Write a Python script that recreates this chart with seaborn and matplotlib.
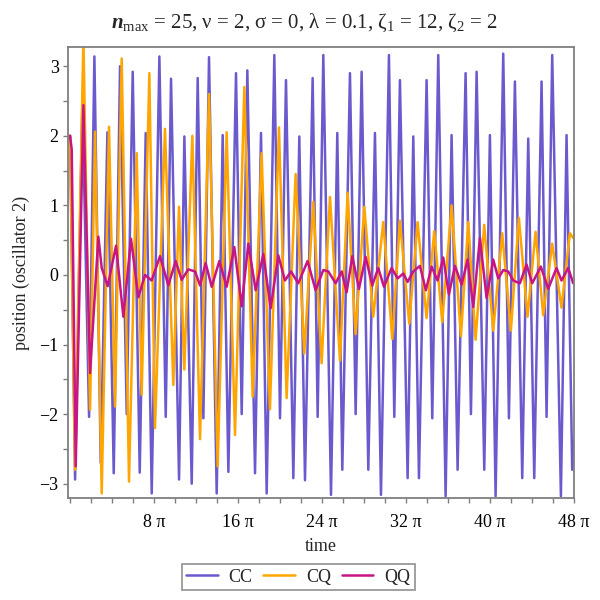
import numpy as np
import pandas as pd
import matplotlib
matplotlib.use("Agg")
import matplotlib.pyplot as plt
from matplotlib.ticker import MultipleLocator, FixedLocator, FixedFormatter
from matplotlib.lines import Line2D
import seaborn as sns

# ---- data (local extrema of each trace) ----
cc_t = [0.0, 1.5, 3.69, 5.69, 7.28, 9.18, 11.17, 13.07, 14.96, 16.96, 18.75, 20.85,
        22.64, 24.44, 26.73, 28.63, 30.22, 32.62, 34.21, 36.41,
        38.2, 39.9, 41.59, 43.89, 45.68, 47.38, 49.67, 51.37, 53.06, 55.36, 57.15,
        58.85, 61.14, 62.84, 64.63, 66.83, 68.62, 70.32, 72.61, 74.11,
        75.8, 78.1, 79.99, 81.49, 83.78, 85.48, 87.27, 89.27, 91.26, 93.06, 95.45,
        97.05, 98.74, 101.04, 102.73, 104.43, 106.72, 108.42, 110.21, 112.41, 114.2,
        116.0, 118.39, 119.99, 121.69, 123.98, 125.67, 127.37, 129.66, 131.36, 133.15,
        135.35, 137.14, 138.94, 141.13, 142.63, 144.32, 146.92, 148.61, 150.31, 150.91]
cc_v = [2.0, -2.94, 2.5, -2.04, 3.14, -2.7, 2.05, -2.85, 3.0, -2.0, 2.92, -2.84,
        2.04, -3.14, 3.14, -2.04, 2.82, -2.94, 1.99, -3.0,
        2.83, -2.06, 3.13, -3.14, 2.01, -2.83, 2.9, -2.0, 2.94, -2.85, 2.04,
        -3.14, 3.16, -2.06, 2.8, -2.92, 1.99, -2.95, 2.83, -2.04,
        3.16, -3.16, 2.04, -2.8, 2.9, -2.0, 2.92, -2.8, 2.04, -3.16, 3.16,
        -2.04, 2.8, -2.92, 1.99, -2.92, 2.8, -2.06, 3.16, -3.18, 2.01,
        -2.8, 2.9, -2.0, 2.92, -2.8, 2.01, -3.18, 3.18, -2.06, 2.78,
        -2.92, 1.96, -2.92, 2.78, -2.04, 3.16, -3.18, 2.01, -2.8, -2.37]

cq_t = [0.0, 1.49, 3.99, 5.98, 7.47, 9.47, 11.66, 13.46, 15.45, 17.64, 19.94, 21.43,
        23.73, 25.42, 28.41, 30.9, 32.6, 34.2,
        36.6, 38.9, 41.59, 44.18, 46.87, 49.37, 52.16, 54.65, 57.34, 59.83, 62.53,
        64.82, 67.51, 70.1, 72.8, 75.29,
        77.8, 80.79, 83.08, 85.47, 88.07, 90.76, 93.75, 96.44, 98.73, 101.52, 104.02,
        106.71, 109.0, 111.4, 114.19,
        117.0, 119.19, 121.38, 123.97, 126.67, 129.36, 131.95, 134.34, 136.94, 139.33,
        141.62, 144.31, 147.1, 149.6, 150.6]
cq_v = [2.0, -2.8, 3.4, -1.94, 2.06, -3.14, 2.13, -1.89, 3.11, -2.97, 1.75, -1.72,
        2.9, -2.2, 2.1, -1.58, 0.98, -1.36,
        2.0, -2.36, 2.6, -2.75, 2.05, -2.3, 2.7, -1.75, 1.75, -1.93, 2.12,
        -1.77, 1.45, -1.13, 1.05, -1.27,
        1.12, -1.23, 1.18, -0.85, 0.98, -0.6, 0.76, -0.92, 0.78, -0.7, 0.76,
        -0.62, 0.63, -0.68, 1.0,
        -0.88, 0.76, -0.93, 0.72, -0.8, 0.6, -0.8, 0.82, -0.6, 0.62,
        -0.58, 0.45, -0.47, 0.6, 0.53]

qq_t = [0.0, 0.5, 1.69, 3.99, 5.98, 8.47, 9.47, 11.26, 13.76, 15.95, 18.24, 20.44,
        22.43, 24.42, 26.92, 29.41, 31.6, 33.4, 35.39,
        37.4, 38.9, 40.59, 42.39, 44.68, 46.87, 49.17, 51.36, 53.35, 55.55, 57.84,
        60.03, 62.33, 64.32, 66.12, 68.31, 71.1, 73.49,
        75.8, 77.3, 79.49, 81.29, 82.78, 84.48, 86.47, 88.46, 90.46, 92.25, 93.95,
        96.24, 98.04, 99.73, 101.03, 102.72, 104.72, 106.51, 108.21, 110.0, 111.7, 113.39,
        115.2, 117.2, 118.99, 120.68, 122.68, 124.67, 126.67, 128.16, 129.66, 131.15,
        132.65, 134.64, 136.64, 138.33, 140.92, 143.12, 145.61, 147.1, 149.1, 150.6]
qq_v = [2.0, 1.8, -2.75, 2.44, -1.41, 0.55, 0.1, -0.16, 0.42, -0.6, 0.52, -0.32,
        0.0, -0.08, 0.27, -0.15, 0.2, -0.07, 0.08,
        0.05, -0.15, 0.17, -0.17, 0.2, -0.17, 0.4, -0.45, 0.45, -0.22, 0.3,
        -0.48, 0.28, -0.08, 0.05, -0.12, 0.2, -0.22,
        0.07, 0.05, -0.12, 0.05, -0.25, 0.27, -0.2, 0.26, -0.15, 0.1, -0.17,
        0.1, -0.05, 0.02, -0.1, 0.05, 0.13, -0.22, 0.12, -0.08, 0.25, -0.28,
        0.13, -0.14, 0.22, -0.46, 0.53, -0.33, 0.22, -0.05, 0.07, 0.05,
        -0.08, -0.12, 0.15, -0.12, 0.12, -0.2, 0.1, -0.08, 0.1, -0.12]

series_names = ["CC", "CQ", "QQ"]
series_colors = ["#6A5ACD", "#FFA500", "#C71585"]
x_tick_labels = ["8 π", "16 π", "24 π", "32 π", "40 π", "48 π"]
x_tick_mult = [8, 16, 24, 32, 40, 48]
y_tick_vals = [-3, -2, -1, 0, 1, 2, 3]

# ---- build long-form table ----
df = pd.concat([
    pd.DataFrame({"time": cc_t, "position": cc_v, "series": "CC"}),
    pd.DataFrame({"time": cq_t, "position": cq_v, "series": "CQ"}),
    pd.DataFrame({"time": qq_t, "position": qq_v, "series": "QQ"}),
], ignore_index=True)

sns.set_style("ticks")
plt.rcParams["font.family"] = ["Liberation Serif", "DejaVu Serif"]
plt.rcParams["mathtext.fontset"] = "custom"
plt.rcParams["mathtext.rm"] = "Liberation Serif"
plt.rcParams["mathtext.it"] = "Liberation Serif:italic"
plt.rcParams["mathtext.bf"] = "Liberation Serif:bold:italic"

fig = plt.figure(figsize=(6, 6), dpi=100)
ax = fig.add_axes([0.114, 0.1695, 0.843, 0.7515])

palette = dict(zip(series_names, series_colors))
sns.lineplot(data=df, x="time", y="position", hue="series", palette=palette,
             estimator=None, sort=False, linewidth=1.8, legend=False, ax=ax)

ax.set_xlim(-0.5, 150.9)
ax.set_ylim(-3.21, 3.27)

ax.xaxis.set_major_locator(FixedLocator([m * np.pi for m in x_tick_mult]))
ax.xaxis.set_major_formatter(FixedFormatter(x_tick_labels))
ax.xaxis.set_minor_locator(MultipleLocator(2 * np.pi))
ax.yaxis.set_major_locator(FixedLocator(y_tick_vals))
ax.set_yticklabels([str(v).replace("-", "\u2212") for v in y_tick_vals])
ax.yaxis.set_minor_locator(MultipleLocator(0.5))

frame_col = "#7f7f7f"
for s in ax.spines.values():
    s.set_color(frame_col)
    s.set_linewidth(1.3)
ax.tick_params(which="both", direction="out", color=frame_col, width=1.0,
               labelsize=13, labelcolor="black")
ax.tick_params(which="major", length=3.5)
ax.tick_params(which="minor", length=3.5)
ax.tick_params(axis="x", which="major", pad=8)

ax.set_xlabel("time", fontsize=13, labelpad=5)
ax.set_ylabel("position (oscillator 2)", fontsize=13, labelpad=7)

fig.text(0.507, 0.962,
         r"$\mathbf{n}_{\mathrm{max}}$ = 25, ν = 2, σ = 0, λ = 0.1, ζ$_1$ = 12, ζ$_2$ = 2",
         ha="center", va="center", fontsize=15)

handles = [Line2D([0], [0], color=c, lw=1.8) for c in series_colors]
leg = fig.legend(handles, series_names, loc="center", bbox_to_anchor=(0.497, 0.038),
                 ncol=3, frameon=True, fancybox=False, fontsize=13,
                 handlelength=1.75, handletextpad=0.6, columnspacing=0.6,
                 borderpad=0.25, borderaxespad=0.0)
leg.get_frame().set_edgecolor(frame_col)
leg.get_frame().set_linewidth(1.3)

fig.savefig("out.png", dpi=100)
